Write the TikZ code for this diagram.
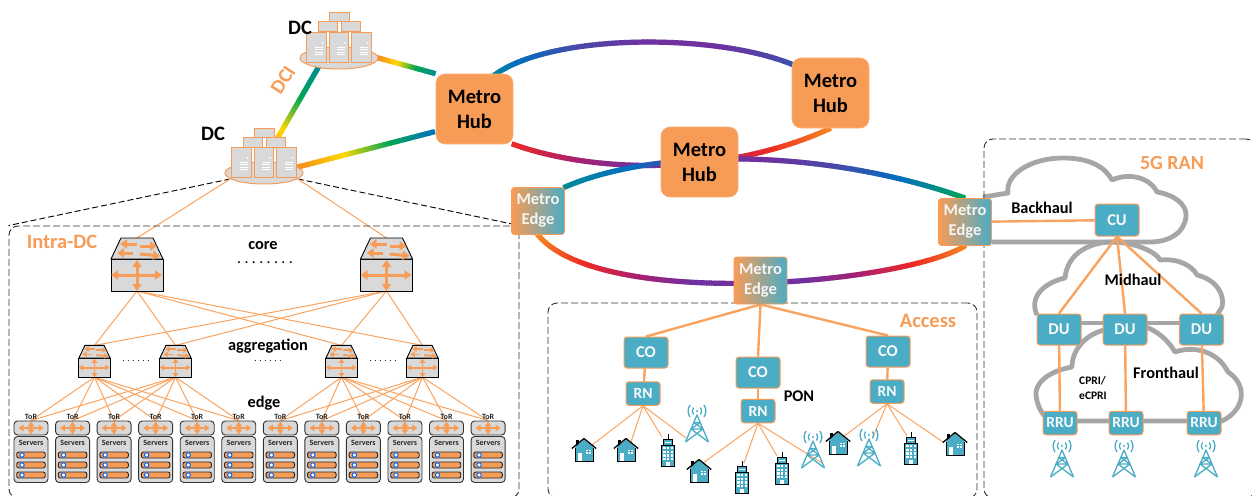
\documentclass[tikz,border=0pt]{standalone}
\usepackage{fontspec}
\setmainfont{Carlito}
\usetikzlibrary{arrows.meta,decorations.markings,backgrounds,shapes.geometric}
\definecolor{hubor}{HTML}{F79C56}
\definecolor{lineor}{HTML}{F9A35F}
\definecolor{tealbox}{HTML}{4BACC6}
\definecolor{grayfill}{HTML}{D9D9D9}
\definecolor{cloudgray}{HTML}{A6A6A6}
\definecolor{dashgray}{HTML}{303030}
\definecolor{rO}{HTML}{F58A1F}
\definecolor{rY}{HTML}{FFD800}
\definecolor{rG}{HTML}{00A651}
\definecolor{rT}{HTML}{008C95}
\definecolor{rB}{HTML}{0070C0}
\definecolor{rI}{HTML}{4A48A8}
\definecolor{rP}{HTML}{7030A0}
\definecolor{rC}{HTML}{A82070}
\definecolor{rR}{HTML}{EE2A24}
\newcommand\rbseg[2]{%
  \pgfmathsetmacro\rbf{(\pgfkeysvalueof{/pgf/decoration/mark info/distance from start})/(\pgfdecoratedpathlength)*(#1-1)}%
  \pgfmathsetmacro\rbi{int(min(int(\rbf),#1-2))}%
  \pgfmathsetmacro\rbj{int(\rbi+1)}%
  \pgfmathsetmacro\rbp{min(100,100*(\rbf-\rbi))}%
  \pgfmathsetmacro\rba{{#2}[\rbi]}%
  \pgfmathsetmacro\rbb{{#2}[\rbj]}%
  \colorlet{rbcur}{\rbb!\rbp!\rba}%
  \draw[draw=rbcur,line width=5.2pt] (-1.7pt,0pt) -- (1.7pt,0pt);%
}
\tikzset{
  rainbow/.style n args={2}{decoration={markings,mark=between positions 0 and 1 step 2.5pt with {\rbseg{#1}{#2}}},decorate},
  hubnode/.style={fill=hubor,draw=hubor!80!white,line width=.6pt,rounded corners=9pt,minimum width=77pt,minimum height=70pt,inner sep=0pt,align=center,font=\fontsize{20.5}{25}\selectfont\bfseries,text=black},
  edgenode/.style={left color=hubor,right color=tealbox,draw=hubor,line width=.9pt,rounded corners=3pt,minimum width=53pt,minimum height=47pt,inner sep=0pt,align=center,font=\fontsize{16.5}{20}\selectfont\bfseries,text=white!92!gray},
  tbox/.style={fill=tealbox,draw=hubor,line width=1pt,rounded corners=3pt,inner sep=0pt,text=white!95!gray,font=\fontsize{16.5}{18}\selectfont\bfseries},
  bigbox/.style={tbox,minimum width=44pt,minimum height=31pt},
  smallbox/.style={tbox,minimum width=34pt,minimum height=23.5pt,font=\fontsize{15.5}{18}\selectfont\bfseries},
  dashbox/.style={draw=dashgray,line width=.9pt,dash pattern=on 7pt off 3pt,rounded corners=9pt,inner sep=0pt},
  thin link/.style={draw=lineor,line width=1pt},
  thick link/.style={draw=lineor,line width=2.4pt},
  dash link/.style={draw=black,line width=.9pt,dash pattern=on 6pt off 3pt},
  cloud line/.style={draw=cloudgray,line width=4.8pt,line join=round},
  lab/.style={inner sep=0pt,font=\fontsize{16.3}{18}\selectfont\bfseries,text=black},
  orlab/.style={inner sep=0pt,font=\fontsize{20.5}{22}\selectfont\bfseries,text=hubor},
  torlab/.style={inner sep=0pt,font=\fontsize{8}{9}\selectfont\bfseries,text=black!85},
  rackbox/.style={fill=grayfill,draw=black!80,line width=.9pt,rounded corners=3.5pt,inner sep=0pt,minimum width=34pt},
  barbox/.style={fill=hubor,draw=black!85,line width=.9pt,rounded corners=2pt,inner sep=0pt,minimum width=28.5pt,minimum height=6pt},
  ordot/.style={circle,fill=white,draw=blue!60!cyan,line width=1pt,inner sep=0pt,minimum size=4.4pt},
  dcell/.style={ellipse,fill=grayfill,draw=hubor,line width=1pt,inner sep=0pt,minimum width=78pt,minimum height=22pt},
  pics/netsw/.style={code={
    \begin{scope}[scale=#1]
    \draw[fill=grayfill,draw=black,line width=.9pt] (-26,0) rectangle (26,32);
    \draw[fill=grayfill,draw=black,line width=.9pt] (-26,0) -- (-16,-21) -- (16,-21) -- (26,0) -- cycle;
    \begin{scope}[line width=#1*3pt,>={Triangle[length=7pt*#1,width=9pt*#1]}]
      \draw[hubor,<->] (-26,16) -- (25,16);
      \draw[hubor,<->] (0,1) -- (0,32);
      \draw[hubor,->] (0,-15) -- (-17,-15);
      \draw[hubor,->] (3,-13) -- (20,-13);
      \draw[hubor,->] (-4,-6) -- (-20,-6);
      \draw[hubor,->] (3,-5) -- (23,-3);
    \end{scope}
    \end{scope}
    \coordinate (-top) at (0,-21*#1);
    \coordinate (-bot) at (0,32*#1);
  }},
  pics/torcross/.style={code={
    \draw[hubor,line width=2pt,<->,>={Triangle[length=5pt,width=6.5pt]}] (-12.5,0) -- (12.5,0);
    \draw[hubor,line width=2pt,<->,>={Triangle[length=5pt,width=6.5pt]}] (0,-6.5) -- (0,6.5);
  }},
  pics/dcrack/.style={code={
    \tikzset{twr/.style={fill=grayfill,draw=hubor,line width=1pt}}
    \draw[twr] (-10,-45) rectangle (10,-36);
    \draw[twr] (-21,-36) rectangle (-2,-26);
    \draw[twr] (2,-36) rectangle (21,-26);
    \foreach \tx in {-22.5,0,22.5}{
      \draw[twr] (\tx-9.7,-25.5) rectangle (\tx+9.7,4.5);
      \fill[white] (\tx+6,-15) circle (1pt);
      \foreach \ty in {-11,-8.5,-6,-3.5}{\draw[white,line width=.6pt] (\tx-2,\ty) -- (\tx+6,\ty);}
    }
  }},
  pics/house/.style={code={
    \fill[black] (-8,-10.5) rectangle (-5.5,-4);
    \fill[tealbox] (-9,-3) -- (0,-10.5) -- (9,-3) -- (9,11.5) -- (-9,11.5) -- cycle;
    \draw[black,line width=.9pt] (-9,-2) -- (-9,11.5) -- (9,11.5) -- (9,-2);
    \draw[black,line width=1.3pt,line join=round] (-12.2,-1.5) -- (0,-11.5) -- (12.2,-1.5);
    \fill[white] (-6,3) rectangle (-2.3,11);
    \fill[white] (1.5,-0.5) rectangle (6.5,4);
    \draw[tealbox,line width=.5pt] (4,-.5) -- (4,4) (1.5,1.7) -- (6.5,1.7);
  }},
  pics/bldg/.style={code={
    \draw[black,line width=.5pt] (0,-16) -- (0,-11);
    \draw[fill=tealbox,draw=black,line width=.8pt] (-4.6,-11) rectangle (4.6,-5);
    \fill[white] (-3.4,-8.5) rectangle (3.4,-6.8);
    \draw[fill=tealbox,draw=black,line width=.9pt] (-6.7,-5) rectangle (6.7,16);
    \foreach \wx in {-3.7,0,3.7}{\foreach \wy in {-2,1.7,5.4,9.1}{\fill[white] (\wx-1.2,\wy-1.2) rectangle (\wx+1.2,\wy+1.2);}}
    \fill[white] (-1.8,12) rectangle (1.8,16);
  }},
  pics/antenna/.style={code={
    \begin{scope}[draw=tealbox,line width=1.3pt]
    \fill[tealbox] (0,6) circle (1.1pt);
    \draw (-3.5,2.5) .. controls (-5,4.5) and (-5,7.5) .. (-3.5,9.5);
    \draw (3.5,2.5) .. controls (5,4.5) and (5,7.5) .. (3.5,9.5);
    \draw (-7,0) .. controls (-9.5,4) and (-9.5,8) .. (-7,12);
    \draw (7,0) .. controls (9.5,4) and (9.5,8) .. (7,12);
    \draw[line join=round] (-11.5,37) -- (0,10) -- (11.5,37);
    \draw (-11.5,37) -- (6,24) (11.5,37) -- (-6,24) (-6,24) -- (6,24) (-3.2,17.5) -- (3.2,17.5) (-6,24) -- (3.2,17.5) (6,24) -- (-3.2,17.5);
    \end{scope}
  }},
}
\begin{document}
\begin{tikzpicture}[x=1pt,y=-1pt]
\clip (0,0) rectangle (1252,495);
\useasboundingbox (0,0) rectangle (1252,495);

% dashed regions
\node[dashbox,minimum width=510pt,minimum height=272pt] (intra) at (264,362) {};
\node[dashbox,minimum width=429pt,minimum height=195pt] (accessbox) at (762.5,400.5) {};
\node[dashbox,minimum width=271pt,minimum height=359pt] (ranbox) at (1119.5,318.5) {};

% data centres
\node[dcell] (dc1) at (339,58) {};
\pic (rack1dc) at (339,58) {dcrack};
\node[dcell] (dc2) at (264,173) {};
\pic (rack2dc) at (264,173) {dcrack};
\node[inner sep=0pt,font=\fontsize{20.5}{22}\selectfont\bfseries] (dc1t) at (300,28) {DC};
\node[inner sep=0pt,font=\fontsize{20.5}{22}\selectfont\bfseries] (dc2t) at (213,133.5) {DC};
\node[orlab,rotate=57,font=\fontsize{20}{22}\selectfont\bfseries] (dci) at (283,80) {DCI};

% metro nodes
\node[hubnode] (hubL) at (474.5,109) {Metro\\Hub};
\node[hubnode] (hubR) at (830.5,93) {Metro\\Hub};
\node[hubnode] (hubC) at (699.5,162) {Metro\\Hub};
\node[edgenode] (me1) at (538,211) {Metro\\Edge};
\node[edgenode] (me2) at (760.5,280.5) {Metro\\Edge};
\node[edgenode] (me3) at (965,222) {Metro\\Edge};

% intra-DC
\node[orlab] (intrat) at (62,242) {Intra-DC};
\node[lab] (coret) at (263,246) {core};
\node[lab,font=\fontsize{13}{14}\selectfont\bfseries] (coredots) at (265,263) {. . . . . . . .};
\node[lab] (aggt) at (268,346) {aggregation};
\node[inner sep=0pt,font=\fontsize{9}{12}\selectfont] (aggdots) at (268,361) {. . . . . .};
\node[lab] (edget) at (264,403) {edge};
\node[inner sep=0pt,font=\fontsize{9}{12}\selectfont] (aggdotsa) at (136,361) {. . . . . .};
\node[inner sep=0pt,font=\fontsize{9}{12}\selectfont] (aggdotsb) at (383,361) {. . . . . .};
\pic (core1) at (137,259) {netsw=1};
\pic (core2) at (386.5,259) {netsw=1};
\pic (agg1) at (94.5,358) {netsw=.6};
\pic (agg2) at (175.5,358) {netsw=.6};
\pic (agg3) at (341.5,358) {netsw=.6};
\pic (agg4) at (422.5,358) {netsw=.6};
\foreach \i [evaluate=\i as \rx using {31+41.55*(\i-1)}] in {1,...,12}{
  \node[rackbox,minimum height=14pt] (tor\i) at (\rx,428) {};
  \pic at (\rx,428) {torcross};
  \node[torlab] (tort\i) at (\rx,417.3) {ToR};
  \node[rackbox,minimum height=46pt] (srv\i) at (\rx,459.5) {};
  \node[torlab] (srvt\i) at (\rx,442.5) {Servers};
  \foreach \b/\by in {a/455,b/465,c/475}{
    \node[barbox] (bar\i\b) at (\rx,\by) {};
    \node[ordot] (dot\i\b) at (\rx-9,\by) {};
  }
}

% access
\node[orlab] (accesst) at (928,321) {Access};
\node[bigbox] (co1) at (646,352.5) {CO};
\node[bigbox] (co2) at (758,372.5) {CO};
\node[bigbox] (co3) at (888,351.5) {CO};
\node[smallbox] (rn1) at (643,393.5) {RN};
\node[smallbox] (rn2) at (758,411) {RN};
\node[smallbox] (rn3) at (887,391.5) {RN};
\node[lab] (pon) at (799,396) {PON};
\pic at (584,450) {house};
\pic at (626,450) {house};
\pic at (668,450) {bldg};
\pic at (697,405) {antenna};
\pic at (699,471) {house};
\pic at (742,477) {bldg};
\pic at (782,468) {bldg};
\pic at (813,431) {antenna};
\pic at (838,443) {house};
\pic at (869,429) {antenna};
\pic at (911,448) {bldg};
\pic at (955,444) {house};
\coordinate (a1) at (592,445);
\coordinate (a2) at (631,442);
\coordinate (a3) at (662,437);
\coordinate (a4) at (686,438);
\coordinate (b1) at (703,463);
\coordinate (b2) at (744,463);
\coordinate (b3) at (777,456);
\coordinate (b4) at (822,463);
\coordinate (c1) at (843,437);
\coordinate (c2) at (873,437);
\coordinate (c3) at (907,436);
\coordinate (c4) at (943,442);

% RAN
\node[orlab,font=\fontsize{20}{22}\selectfont\bfseries] (rant) at (1172,163) {5G RAN};
\node[bigbox,minimum height=32pt] (cu) at (1117,220) {CU};
\node[bigbox] (du1) at (1059,329.5) {DU};
\node[bigbox] (du2) at (1125,329.5) {DU};
\node[bigbox] (du3) at (1201.5,329.5) {DU};
\node[smallbox] (rru1) at (1060,423) {RRU};
\node[smallbox] (rru2) at (1126,423) {RRU};
\node[smallbox] (rru3) at (1204,423) {RRU};
\pic at (1062,440) {antenna};
\pic at (1124,440) {antenna};
\pic at (1206,440) {antenna};
\node[lab] (backt) at (1042,208) {Backhaul};
\node[lab] (midt) at (1133,280) {Midhaul};
\node[lab] (frontt) at (1166,373) {Fronthaul};
\node[lab,font=\fontsize{11.5}{15}\selectfont\bfseries,align=left] (cprit) at (1093,388) {CPRI/\\eCPRI};

\begin{pgfonlayer}{background}
  % clouds
  \draw[cloud line] (983,197) -- (1008,193) .. controls (1005,175) and (1030,158) .. (1063,158) .. controls (1090,158) and (1105,167) .. (1112,180) .. controls (1130,172) and (1150,178) .. (1157,192) .. controls (1175,195) and (1187,205) .. (1186,216) .. controls (1185,232) and (1170,242) .. (1150,242) -- (992,242);
  \draw[cloud line] (1037,315) .. controls (1028,295) and (1047,282) .. (1065,278) .. controls (1067,255) and (1087,243) .. (1110,242) .. controls (1137,242) and (1157,253) .. (1160,260) .. controls (1180,258) and (1193,267) .. (1197,275) .. controls (1217,280) and (1225,295) .. (1222,307) -- (1217,315);
  \draw[cloud line] (1060,323) -- (1210,323);
  \draw[cloud line] (1104,330) .. controls (1085,335) and (1072,350) .. (1072,367) .. controls (1045,372) and (1035,385) .. (1036,395) .. controls (1037,408) and (1045,418) .. (1050,421) -- (1222,421) .. controls (1245,410) and (1248,385) .. (1228,372) .. controls (1218,352) and (1195,345) .. (1175,352) .. controls (1165,335) and (1150,328) .. (1145,327);
  % rainbow links
  \path[rainbow={7}{"rG","rB","rI","rP","rP","rI","rB"}] (hubL.center) .. controls (475,20) and (796,25) .. (hubR.center);
  \path[rainbow={6}{"rR","rC","rP","rC","rR","rO"}] (hubL.south east) .. controls (590,172) and (722,178) .. (hubR.south);
  \path[rainbow={7}{"rT","rB","rP","rP","rI","rB","rG"}] (me1.north east) .. controls (660,146) and (830,150) .. (me3.north);
  \path[rainbow={9}{"rO","rR","rC","rP","rP","rP","rC","rR","rO"}] (me1.south) .. controls (600,310) and (899,285) .. (me3.south);
  \path[rainbow={4}{"rO","rY","rG","rT"}] (dc1.east) -- (hubL.north west);
  \path[rainbow={4}{"rT","rG","rY","rO"}] (dc1.205) -- (dc2.north);
  \path[rainbow={4}{"rO","rY","rG","rB"}] (dc2.10) -- (hubL.210);
  % DC fan-out
  \draw[dash link] (dc2.190) -- (intra.north west);
  \draw[dash link] (dc2.350) -- (intra.north east);
  \draw[thin link] (dc2.190) -- (core1-top);
  \draw[thin link] (dc2.350) -- (core2-top);
  \foreach \cc in {1,2}{\foreach \ag in {1,2,3,4}{\draw[thin link] (core\cc-bot) -- (agg\ag-top);}}
  \foreach \ag in {1,2}{\foreach \tt in {1,...,6}{\draw[thin link] (agg\ag-bot) -- (tor\tt.north);}}
  \foreach \ag in {3,4}{\foreach \tt in {7,...,12}{\draw[thin link] (agg\ag-bot) -- (tor\tt.north);}}
  % access
  \draw[thick link] (me2.south) -- (co1.north);
  \draw[thick link] (me2.south) -- (co2.north);
  \draw[thick link] (me2.south) -- (co3.north);
  \draw[thick link] (co1) -- (rn1);
  \draw[thick link] (co2) -- (rn2);
  \draw[thick link] (co3) -- (rn3);
  \foreach \e in {a1,a2,a3,a4}{\draw[thin link] (rn1.south) -- (\e);}
  \foreach \e in {b1,b2,b3,b4}{\draw[thin link] (rn2.south) -- (\e);}
  \foreach \e in {c1,c2,c3,c4}{\draw[thin link] (rn3.south) -- (\e);}
  % RAN
  \draw[thick link] (me3) -- (cu);
  \draw[thick link] (cu.south) -- (du1.north);
  \draw[thick link] (cu.south) -- (du2.north);
  \draw[thick link] (cu.south) -- (du3.north);
  \draw[thick link] (du1) -- (rru1);
  \draw[thick link] (du2) -- (rru2);
  \draw[thick link] (du3) -- (rru3);
\end{pgfonlayer}
\end{tikzpicture}
\end{document}
